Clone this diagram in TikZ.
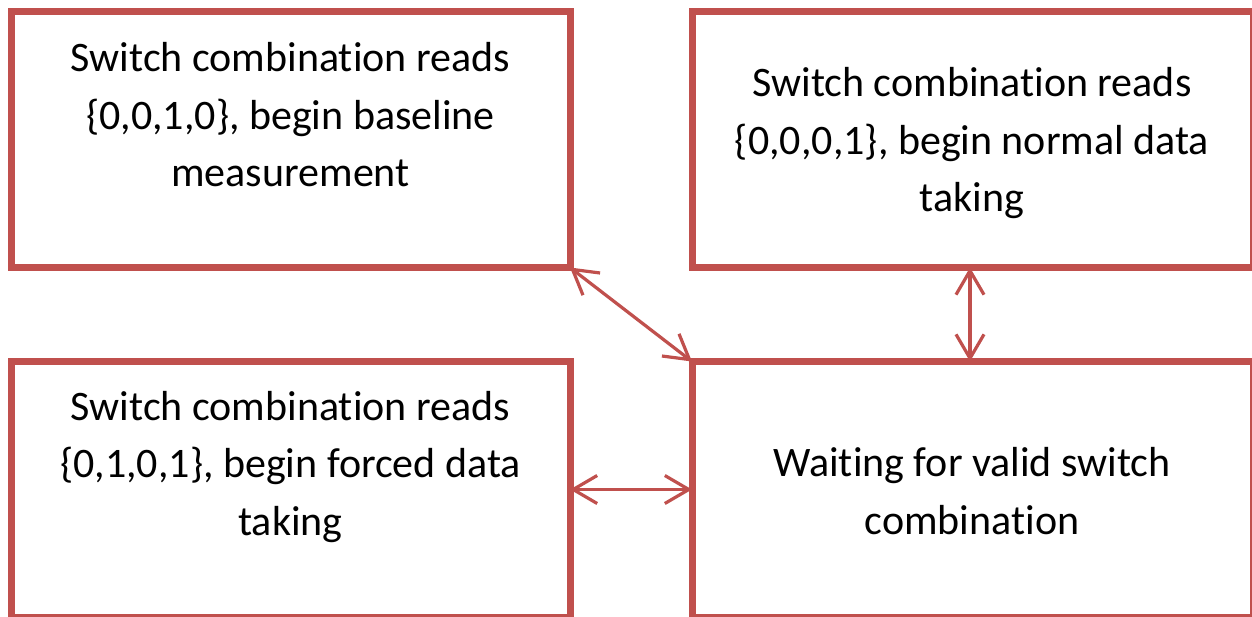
\documentclass[tikz,border=0pt]{standalone}
\usepackage{fontspec}
\setmainfont{Carlito}[Ligatures={NoCommon}]
\usetikzlibrary{arrows.meta}
\definecolor{boxred}{RGB}{192,80,77}
\tikzset{
  statebox/.style={draw=boxred, line width=7pt, outer sep=0pt, inner sep=0pt, rectangle},
  boxtext/.style={align=center, anchor=base, inner sep=0pt, text=black,
    font=\fontsize{42pt}{57.5pt}\selectfont},
  link/.style={draw=boxred, line width=3.2pt,
    {Straight Barb[length=24pt,width=28pt]}-{Straight Barb[length=24pt,width=28pt]}}
}
\begin{document}
\begin{tikzpicture}[x=1pt,y=-1pt]
\useasboundingbox (0,0) rectangle (1252,616);
\fill[white] (0,0) rectangle (1252,616);
\begin{scope}
\clip (0,0) rectangle (1252,616);
\node[statebox, minimum width=559pt, minimum height=256pt] (tl) at (290.5,139.5) {};
\node[statebox, minimum width=561pt, minimum height=256pt] (tr) at (972.5,139.5) {};
\node[statebox, minimum width=559pt, minimum height=256pt] (bl) at (290.5,489.5) {};
\node[statebox, minimum width=561pt, minimum height=256pt] (br) at (972.5,489.5) {};
\end{scope}
% anchor=base of a multi-line node is the baseline of its last line
\node[boxtext] (tltext) at (290.5,186.7) {Switch combination reads\\\{0,0,1,0\}, begin baseline\\measurement};
\node[boxtext] (trtext) at (972,211.7) {Switch combination reads\\\{0,0,0,1\}, begin normal data\\taking};
\node[boxtext] (bltext) at (290.5,535) {Switch combination reads\\\{0,1,0,1\}, begin forced data\\taking};
\node[boxtext] (brtext) at (972,534) {Waiting for valid switch\\combination};
\draw[link] (tl.south east) -- (br.north west);
\draw[link] ([xshift=-2.5pt]tr.south) -- ([xshift=-2.5pt]br.north);
\draw[link] (bl.east) -- (br.west |- bl.east);
\end{tikzpicture}
\end{document}
